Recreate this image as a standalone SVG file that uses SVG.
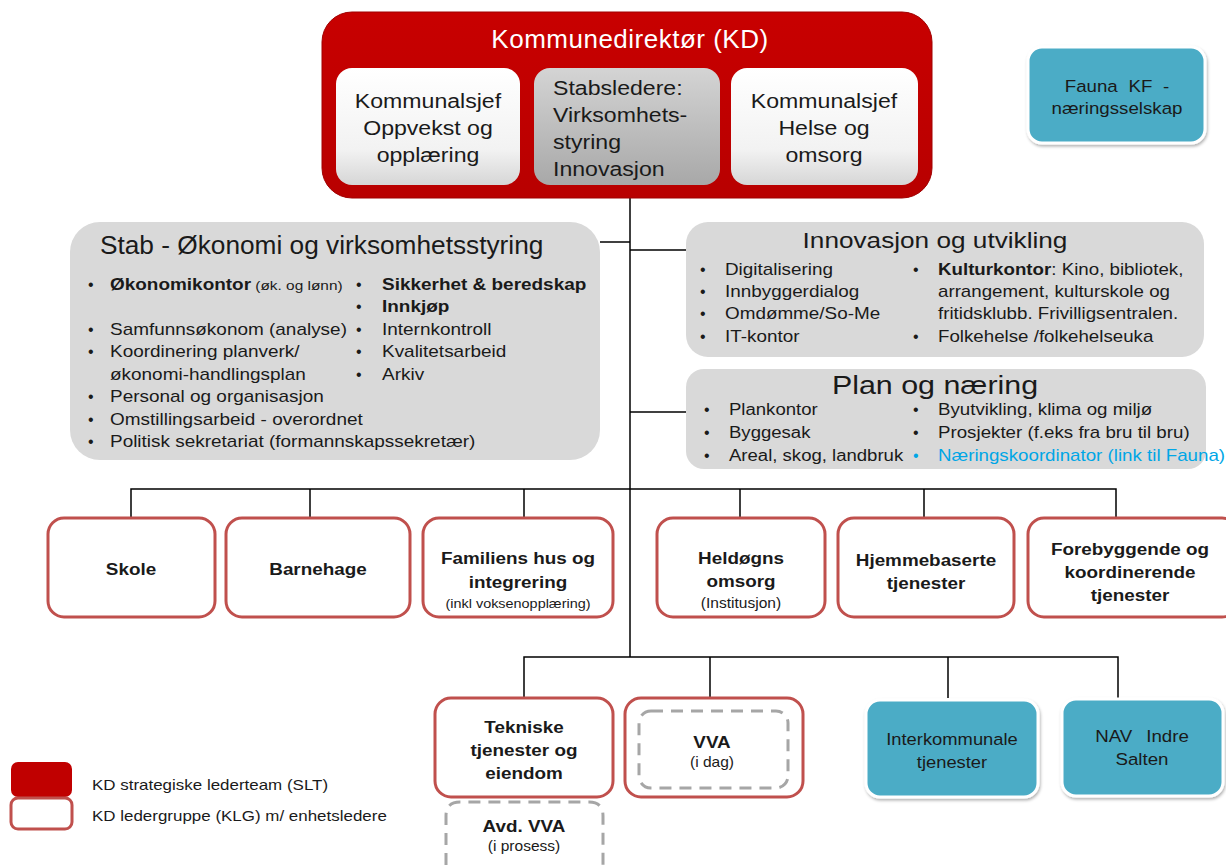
<svg xmlns="http://www.w3.org/2000/svg" width="1226" height="865" viewBox="0 0 1226 865">
<defs>
<linearGradient id="gWhite" x1="0" y1="0" x2="0" y2="1"><stop offset="0" stop-color="#ffffff"/><stop offset="0.7" stop-color="#f2f2f2"/><stop offset="1" stop-color="#d6d6d6"/></linearGradient>
<linearGradient id="gGray" x1="0" y1="0" x2="0" y2="1"><stop offset="0" stop-color="#d4d4d4"/><stop offset="1" stop-color="#a8a8a8"/></linearGradient>
<linearGradient id="gRed" x1="0" y1="0" x2="0" y2="1"><stop offset="0" stop-color="#c80000"/><stop offset="1" stop-color="#b80000"/></linearGradient>
<filter id="sh" x="-10%" y="-10%" width="125%" height="130%"><feDropShadow dx="1" dy="2" stdDeviation="1.5" flood-color="#000" flood-opacity="0.3"/></filter>
</defs>
<style>
text{font-family:"Liberation Sans",Arial,sans-serif;fill:#1a1a1a}
.w{fill:#ffffff}
.ib{font-size:21px;text-anchor:middle}
.b{font-size:16px}
.bd{font-weight:bold}
.sm{font-size:13px}
.unit{fill:#ffffff;stroke:#c0504d;stroke-width:3}
.lbl{font-size:17px;font-weight:bold;text-anchor:middle}
.sub{font-size:14px;text-anchor:middle}
.teal{fill:#4bacc6;stroke:#ffffff;stroke-width:3}
.tl{font-size:17px;text-anchor:middle}
.grey{fill:#d9d9d9}
.dash{fill:none;stroke:#a6a6a6;stroke-width:3;stroke-dasharray:12,8}
.con{fill:none;stroke:#000000;stroke-width:1.5}
.blue{fill:#00a6e6}
</style>

<g id="connectors">
<line class="con" x1="630" y1="198" x2="630" y2="657"/>
<line class="con" x1="600" y1="242" x2="630" y2="242"/>
<line class="con" x1="630" y1="250" x2="686" y2="250"/>
<line class="con" x1="630" y1="412" x2="686" y2="412"/>
<polyline class="con" points="131,518 131,489 1116,489 1116,518"/>
<line class="con" x1="310" y1="489" x2="310" y2="518"/>
<line class="con" x1="524" y1="489" x2="524" y2="518"/>
<line class="con" x1="740" y1="489" x2="740" y2="518"/>
<line class="con" x1="924" y1="489" x2="924" y2="518"/>
<polyline class="con" points="524,698 524,657 1118,657 1118,698"/>
<line class="con" x1="710" y1="657" x2="710" y2="698"/>
<line class="con" x1="948" y1="657" x2="948" y2="698"/>
</g>

<g id="kd">
<rect x="322" y="12" width="610" height="186" rx="30" fill="url(#gRed)" stroke="#a00000" stroke-width="1"/>
<text x="630" y="48" class="w" font-size="26" text-anchor="middle" letter-spacing="0.5">Kommunedirektør (KD)</text>
</g>
<g id="ks-oppvekst">
<rect x="336" y="68" width="184" height="117" rx="16" fill="url(#gWhite)"/>
<text class="ib" transform="matrix(1.1,0,0,1,-42.8,0)"><tspan x="428" y="108">Kommunalsjef</tspan><tspan x="428" y="135">Oppvekst og</tspan><tspan x="428" y="162">opplæring</tspan></text>
</g>
<g id="stabsledere">
<rect x="534" y="68" width="186" height="117" rx="16" fill="url(#gGray)"/>
<text font-size="21" transform="matrix(1.1,0,0,1,-55.3,0)"><tspan x="553" y="95">Stabsledere:</tspan><tspan x="553" y="122">Virksomhets-</tspan><tspan x="553" y="149">styring</tspan><tspan x="553" y="176">Innovasjon</tspan></text>
</g>
<g id="ks-helse">
<rect x="731" y="68" width="187" height="117" rx="16" fill="url(#gWhite)"/>
<text class="ib" transform="matrix(1.1,0,0,1,-82.4,0)"><tspan x="824" y="108">Kommunalsjef</tspan><tspan x="824" y="135">Helse og</tspan><tspan x="824" y="162">omsorg</tspan></text>
</g>

<g id="fauna">
<rect x="1028" y="47" width="177" height="96" rx="14" class="teal" filter="url(#sh)"/>
<text class="tl" transform="matrix(1.1,0,0,1,-111.7,0)"><tspan x="1117" y="92" word-spacing="5">Fauna KF -</tspan><tspan x="1117" y="114">næringsselskap</tspan></text>
</g>

<g id="stab">
<rect x="70" y="222" width="530" height="238" rx="30" class="grey"/>
<text x="100" y="254" font-size="25" transform="matrix(1.05,0,0,1,-5,0)">Stab - Økonomi og virksomhetsstyring</text>
<g class="b">
<text x="88" y="290">•</text>
<text x="88" y="335">•</text>
<text x="88" y="357">•</text>
<text x="88" y="402">•</text>
<text x="88" y="425">•</text>
<text x="88" y="447">•</text>
<text x="356" y="290">•</text>
<text x="356" y="312">•</text>
<text x="356" y="335">•</text>
<text x="356" y="357">•</text>
<text x="356" y="380">•</text>
<g transform="matrix(1.185,0,0,1,-20.35,0)">
<text x="110" y="290"><tspan class="bd">Økonomikontor</tspan><tspan class="sm"> (øk. og lønn)</tspan></text>
<text x="110" y="335">Samfunnsøkonom  (analyse)</text>
<text x="110" y="357">Koordinering planverk/</text>
<text x="110" y="380">økonomi-handlingsplan</text>
<text x="110" y="402">Personal og organisasjon</text>
<text x="110" y="425">Omstillingsarbeid - overordnet</text>
<text x="110" y="447">Politisk sekretariat (formannskapssekretær)</text>
</g>
<g transform="matrix(1.185,0,0,1,-70.67,0)">
<text x="382" y="290" class="bd">Sikkerhet &amp; beredskap</text>
<text x="382" y="312" class="bd">Innkjøp</text>
<text x="382" y="335">Internkontroll</text>
<text x="382" y="357">Kvalitetsarbeid</text>
<text x="382" y="380">Arkiv</text>
</g>
</g>
</g>

<g id="innovasjon">
<rect x="686" y="222" width="518" height="135" rx="22" class="grey"/>
<text x="935" y="248" font-size="22" text-anchor="middle" transform="matrix(1.19,0,0,1,-177.65,0)">Innovasjon og utvikling</text>
<g class="b">
<text x="700" y="275">•</text>
<text x="700" y="297">•</text>
<text x="700" y="319">•</text>
<text x="700" y="342">•</text>
<text x="913" y="275">•</text>
<text x="913" y="342">•</text>
<g transform="matrix(1.18,0,0,1,-130.5,0)">
<text x="725" y="275">Digitalisering</text>
<text x="725" y="297">Innbyggerdialog</text>
<text x="725" y="319">Omdømme/So-Me</text>
<text x="725" y="342">IT-kontor</text>
</g>
<g transform="matrix(1.17,0,0,1,-159.46,0)">
<text x="938" y="275"><tspan class="bd">Kulturkontor</tspan>: Kino, bibliotek,</text>
<text x="938" y="297">arrangement, kulturskole og</text>
<text x="938" y="319">fritidsklubb. Frivilligsentralen.</text>
<text x="938" y="342">Folkehelse /folkehelseuka</text>
</g>
</g>
</g>

<g id="plan">
<rect x="686" y="369" width="520" height="100" rx="18" class="grey"/>
<text x="935" y="394" font-size="26" text-anchor="middle" transform="matrix(1.17,0,0,1,-158.95,0)">Plan og næring</text>
<g class="b">
<text x="704" y="415">•</text>
<text x="704" y="438">•</text>
<text x="704" y="461">•</text>
<text x="913" y="415">•</text>
<text x="913" y="438">•</text>
<text x="913" y="461" class="blue">•</text>
<g transform="matrix(1.16,0,0,1,-116.64,0)">
<text x="729" y="415">Plankontor</text>
<text x="729" y="438">Byggesak</text>
<text x="729" y="461">Areal, skog, landbruk</text>
</g>
<g transform="matrix(1.17,0,0,1,-159.46,0)">
<text x="938" y="415">Byutvikling, klima og miljø</text>
<text x="938" y="438">Prosjekter (f.eks fra bru til bru)</text>
<text x="938" y="461" class="blue">Næringskoordinator (link til Fauna)</text>
</g>
</g>
</g>

<g id="skole"><rect x="48" y="518" width="167" height="99" rx="16" class="unit"/><text x="131" y="575" class="lbl" transform="matrix(1.11,0,0,1,-14.41,0)">Skole</text></g>
<g id="barnehage"><rect x="226" y="518" width="184" height="99" rx="16" class="unit"/><text x="318" y="575" class="lbl" transform="matrix(1.11,0,0,1,-34.98,0)">Barnehage</text></g>
<g id="familiens"><rect x="423" y="518" width="190" height="99" rx="16" class="unit"/><g transform="matrix(1.11,0,0,1,-56.98,0)"><text class="lbl"><tspan x="518" y="564">Familiens hus og</tspan><tspan x="518" y="588">integrering</tspan></text><text x="518" y="608" font-size="13" text-anchor="middle">(inkl voksenopplæring)</text></g></g>
<g id="heldogns"><rect x="657" y="518" width="168" height="99" rx="16" class="unit"/><g transform="matrix(1.11,0,0,1,-81.51,0)"><text class="lbl"><tspan x="741" y="564">Heldøgns</tspan><tspan x="741" y="587">omsorg</tspan></text><text x="741" y="608" class="sub" font-size="15">(Institusjon)</text></g></g>
<g id="hjemmebaserte"><rect x="838" y="518" width="176" height="99" rx="16" class="unit"/><text class="lbl" transform="matrix(1.11,0,0,1,-101.86,0)"><tspan x="926" y="566">Hjemmebaserte</tspan><tspan x="926" y="589">tjenester</tspan></text></g>
<g id="forebyggende"><rect x="1028" y="518" width="210" height="99" rx="16" class="unit"/><text class="lbl" transform="matrix(1.11,0,0,1,-124.3,0)"><tspan x="1130" y="555">Forebyggende og</tspan><tspan x="1130" y="578">koordinerende</tspan><tspan x="1130" y="601">tjenester</tspan></text></g>

<g id="avd-vva"><path d="M446,865 V816 Q446,802 460,802 H589 Q603,802 603,816 V865" class="dash"/><g transform="matrix(1.11,0,0,1,-57.64,0)"><text x="524" y="832" class="lbl">Avd. VVA</text><text x="524" y="851" class="sub">(i prosess)</text></g></g>
<g id="tekniske"><rect x="435" y="698" width="178" height="99" rx="16" class="unit"/><text class="lbl" transform="matrix(1.11,0,0,1,-57.64,0)"><tspan x="524" y="733">Tekniske</tspan><tspan x="524" y="756">tjenester og</tspan><tspan x="524" y="779">eiendom</tspan></text></g>
<g id="vva"><rect x="625" y="698" width="178" height="99" rx="16" class="unit"/><rect x="639" y="711" width="149" height="77" rx="12" class="dash"/><g transform="matrix(1.11,0,0,1,-78.32,0)"><text x="712" y="748" class="lbl">VVA</text><text x="712" y="767" class="sub">(i dag)</text></g></g>

<g id="interkommunale"><rect x="866" y="700" width="172" height="97" rx="14" class="teal" filter="url(#sh)"/><text class="tl" transform="matrix(1.08,0,0,1,-76.16,0)"><tspan x="952" y="745">Interkommunale</tspan><tspan x="952" y="768">tjenester</tspan></text></g>
<g id="nav"><rect x="1062" y="699" width="161" height="97" rx="14" class="teal" filter="url(#sh)"/><text class="tl" transform="matrix(1.1,0,0,1,-114.2,0)"><tspan x="1142" y="742" word-spacing="8">NAV Indre</tspan><tspan x="1142" y="765">Salten</tspan></text></g>

<g id="legend">
<rect x="11" y="762" width="61" height="35" rx="7" fill="#c00000"/>
<rect x="11" y="798" width="61" height="31" rx="7" fill="#ffffff" stroke="#c0504d" stroke-width="3"/>
<g transform="matrix(1.13,0,0,1,-11.96,0)">
<text x="92" y="790" font-size="15">KD strategiske lederteam (SLT)</text>
<text x="92" y="821" font-size="15">KD ledergruppe (KLG) m/ enhetsledere</text>
</g>
</g>
</svg>
